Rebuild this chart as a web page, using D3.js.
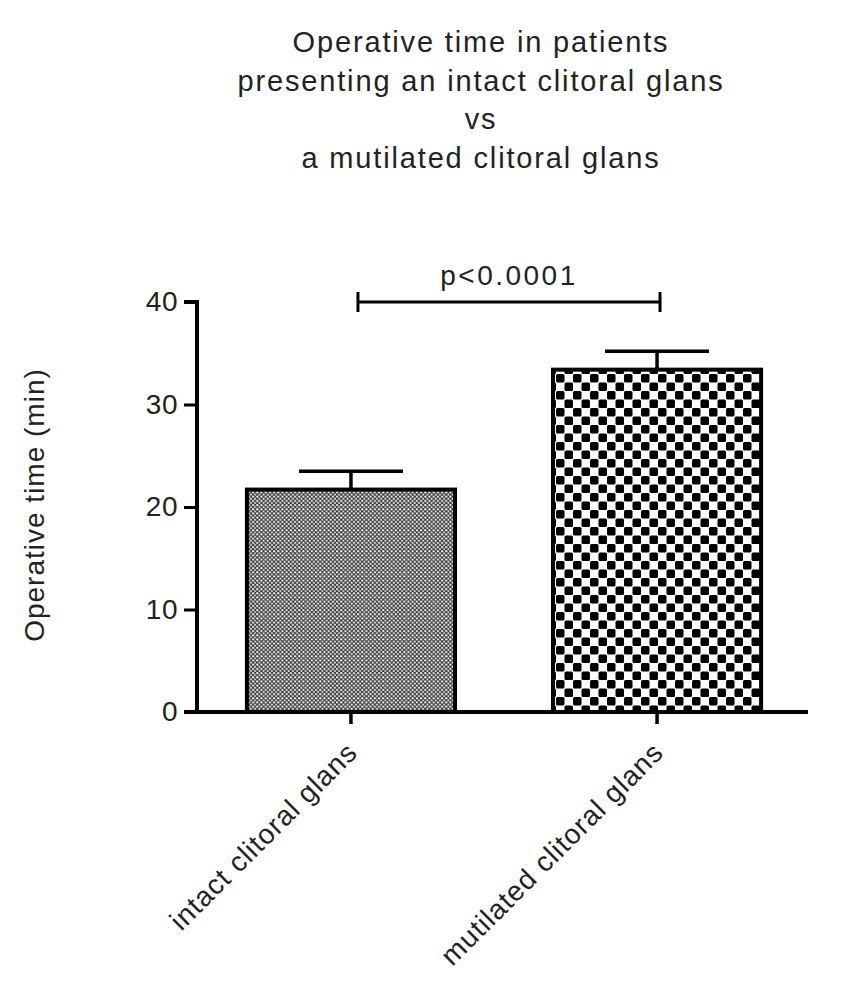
<!DOCTYPE html>
<html><head><meta charset="utf-8">
<script src="https://cdn.jsdelivr.net/npm/d3@7"></script>
<style>body{margin:0;background:#fff}text{font-family:"Liberation Sans",Arial,sans-serif;fill:#222}</style>
</head><body>
<script>
const categories = ["intact clitoral glans", "mutilated clitoral glans"];
const means = [21.7, 33.4];
const errors = [1.8, 1.8];
const yTicks = [0, 10, 20, 30, 40];
const titleLines = ["Operative time in patients", "presenting an intact clitoral glans", "vs", "a mutilated clitoral glans"];
const yLabel = "Operative time (min)";
const pLabel = "p<0.0001";

const W = 841, H = 984;
const svg = d3.select("body").append("svg").attr("width", W).attr("height", H);
const defs = svg.append("defs");
const p1 = defs.append("pattern").attr("id","fine").attr("patternUnits","userSpaceOnUse").attr("width",4.2).attr("height",4.2);
p1.append("rect").attr("width",4.2).attr("height",4.2).attr("fill","#3a3a3a");
p1.append("circle").attr("cx",1.05).attr("cy",1.05).attr("r",1.05).attr("fill","#fff");
p1.append("circle").attr("cx",3.15).attr("cy",3.15).attr("r",1.05).attr("fill","#e8e8e8");
const p2 = defs.append("pattern").attr("id","coarse").attr("patternUnits","userSpaceOnUse").attr("width",17).attr("height",17).attr("x",556).attr("y",374);
p2.append("rect").attr("width",17).attr("height",17).attr("fill","#fff");
p2.append("rect").attr("width",8.5).attr("height",8.5).attr("fill","#000").attr("rx",1.5);
p2.append("rect").attr("x",8.5).attr("y",8.5).attr("width",8.5).attr("height",8.5).attr("fill","#000").attr("rx",1.5);

const x0 = 197, x1 = 808, yTop = 302, yBot = 712;
const y = d3.scaleLinear().domain([0, 40]).range([yBot, yTop]);
const x = d3.scaleBand().domain(categories).range([x0, 811]).paddingInner(0.32).paddingOuter(0.163);

// title
svg.append("g").selectAll("text").data(titleLines).join("text")
  .attr("x", 481).attr("y", (d,i) => 52 + i*38.5).attr("text-anchor","middle")
  .style("font-size","29px").style("letter-spacing","1.85px").text(d => d);

// bars
const fills = ["url(#fine)", "url(#coarse)"];
svg.append("g").selectAll("rect").data(categories).join("rect")
  .attr("x", d => x(d)).attr("width", x.bandwidth())
  .attr("y", (d,i) => y(means[i])).attr("height", (d,i) => y(0) - y(means[i]))
  .attr("fill", (d,i) => fills[i]).attr("stroke","#000").attr("stroke-width",4);

// error bars
const eb = svg.append("g").attr("stroke","#000").attr("stroke-width",3.5);
categories.forEach((c,i) => {
  const cx = x(c) + x.bandwidth()/2;
  eb.append("line").attr("x1",cx).attr("x2",cx).attr("y1",y(means[i])).attr("y2",y(means[i]+errors[i]));
  eb.append("line").attr("x1",cx-52).attr("x2",cx+52).attr("y1",y(means[i]+errors[i])).attr("y2",y(means[i]+errors[i]));
});

// y axis
const ya = svg.append("g").attr("transform",`translate(${x0},0)`)
  .call(d3.axisLeft(y).tickValues(yTicks).tickSize(13).tickPadding(6));
ya.select(".domain").attr("stroke","#000").attr("stroke-width",4).attr("d",`M-13,${yTop}H0V${yBot}`);
ya.selectAll(".tick line").attr("stroke","#000").attr("stroke-width",3);
ya.selectAll(".tick text").style("font-size","28px").style("letter-spacing","0.5px").style("font-family","'Liberation Sans',Arial,sans-serif").attr("fill","#222");

// x axis
const xa = svg.append("g").attr("transform",`translate(0,${yBot})`)
  .call(d3.axisBottom(x).tickSize(12).tickPadding(8));
xa.select(".domain").attr("stroke","#000").attr("stroke-width",4).attr("d",`M${x0-13},0H${x1}`);
xa.selectAll(".tick line").attr("stroke","#000").attr("stroke-width",3.5);
xa.selectAll(".tick text").style("font-size","28px").style("letter-spacing","1px").style("font-family","'Liberation Sans',Arial,sans-serif").attr("fill","#222")
  .attr("text-anchor","end").attr("dy","0").attr("transform","translate(-6,28) rotate(-45)");

// y label
svg.append("text").attr("transform",`translate(44,505) rotate(-90)`).attr("text-anchor","middle")
  .style("font-size","28px").style("letter-spacing","1px").text(yLabel);

// significance bracket
const bx1 = x(categories[0]) + x.bandwidth()/2 + 7, bx2 = x(categories[1]) + x.bandwidth()/2 + 3;
const by = y(40);
const sb = svg.append("g").attr("stroke","#000").attr("stroke-width",3);
sb.append("line").attr("x1",bx1).attr("x2",bx2).attr("y1",by).attr("y2",by);
sb.append("line").attr("x1",bx1).attr("x2",bx1).attr("y1",by-10).attr("y2",by+10);
sb.append("line").attr("x1",bx2).attr("x2",bx2).attr("y1",by-10).attr("y2",by+10);
svg.append("text").attr("x",(bx1+bx2)/2).attr("y",by-17).attr("text-anchor","middle")
  .style("font-size","28px").style("letter-spacing","2.5px").text(pLabel);
</script>
</body></html>
